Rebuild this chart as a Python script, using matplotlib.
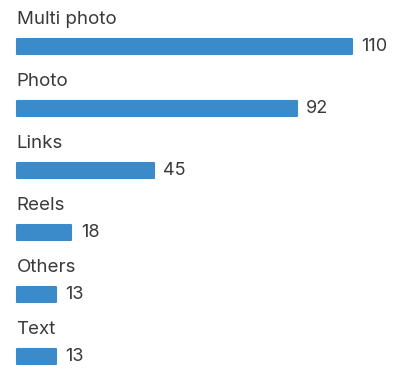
import matplotlib.pyplot as plt

categories = ['Multi photo', 'Photo', 'Links', 'Reels', 'Others', 'Text']
counts = [110, 92, 45, 18, 13, 13]

bar_color = '#3b8bca'
text_color = '#3a3a3a'

plt.rcParams['font.family'] = ['Inter', 'DejaVu Sans']

fig = plt.figure(figsize=(3.95, 3.69), dpi=100)
ax = fig.add_axes([0, 0, 1, 1])

pos = list(range(len(categories)))
# rounded corners via a thick round-joined edge in the same colour
bars = ax.barh(pos, counts, height=0.255, color=bar_color, edgecolor=bar_color,
               linewidth=1.5, joinstyle='round', left=0.2)

for i, (name, v) in enumerate(zip(categories, counts)):
    ax.text(0.2, i - 0.37, name, fontsize=13.5, color=text_color, va='baseline', ha='left')
    ax.text(v + 3.3, i, str(v), fontsize=13, color=text_color, va='center', ha='left')

ax.set_xlim(-16 / 3.045, (395 - 16) / 3.045)
ax.set_ylim((369 - 46.5) / 62, -46.5 / 62)
ax.axis('off')

fig.savefig('out.png', dpi=100)
